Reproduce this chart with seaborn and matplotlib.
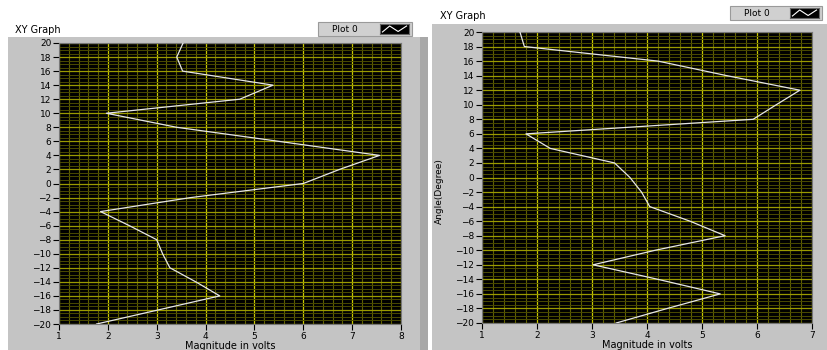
import numpy as np
import pandas as pd
import matplotlib
matplotlib.use("Agg")
import matplotlib.pyplot as plt
from matplotlib.patches import Rectangle
import seaborn as sns

# Angle sweep (degrees) shared by both graphs
angle = [20, 18, 16, 14, 12, 10, 8, 6, 4, 2, 0,
         -2, -4, -6, -8, -10, -12, -14, -16, -18, -20]

# Measured magnitudes (volts) for each angle
left_mag = [3.54, 3.41, 3.53, 5.38, 4.70, 1.97, 3.41, 5.50, 7.56, 6.74, 6.00,
            3.70, 1.85, 2.44, 3.00, 3.12, 3.27, 3.80, 4.29, 3.03, 1.77]
right_mag = [1.69, 1.77, 4.20, 5.45, 6.78, 6.35, 5.93, 1.80, 2.24, 3.41, 3.69,
             3.90, 4.05, 4.78, 5.42, 4.15, 3.02, 4.20, 5.33, 4.37, 3.44]

left_xticks = [1, 2, 3, 4, 5, 6, 7, 8]
right_xticks = [1, 2, 3, 4, 5, 6, 7]
yticks = list(range(-20, 21, 2))

W, H = 827, 350
PANEL = "#c4c4c4"
fig = plt.figure(figsize=(W / 100, H / 100), dpi=100)
fig.patch.set_facecolor("white")


def px_rect(x0, y0, x1, y1):
    """Figure-fraction rectangle from pixel corners (origin top-left)."""
    return [x0 / W, 1 - y1 / H, (x1 - x0) / W, (y1 - y0) / H]


def add_box(x0, y0, x1, y1, color, z=-10, ec="none", lw=0):
    l, b, w, h = px_rect(x0, y0, x1, y1)
    fig.patches.append(Rectangle((l, b), w, h, transform=fig.transFigure,
                                 facecolor=color, edgecolor=ec, linewidth=lw,
                                 zorder=z))


# Grey front-panel backgrounds
add_box(8, 37, 420, 350, PANEL)
add_box(420, 37, 428, 350, "#a8a8a8")
add_box(432, 24, 827, 350, PANEL)


def legend_box(x0, y0, x1, y1):
    add_box(x0, y0, x1, y1, "#d0d0d0", z=-5, ec="#9a9a9a", lw=0.8)
    fig.text((x0 + 14) / W, 1 - (y0 + y1) / 2 / H, "Plot 0", fontsize=6.5,
             va="center", ha="left", color="black")
    ix0, ix1 = x1 - 32, x1 - 3
    ax_i = fig.add_axes(px_rect(ix0, y0 + 2, ix1, y1 - 2))
    ax_i.set_zorder(5)
    ax_i.set_facecolor("black")
    ax_i.plot([0, 0.3, 0.65, 1], [0.2, 0.8, 0.25, 0.8], color="white", lw=0.8)
    ax_i.set_xlim(-0.1, 1.1)
    ax_i.set_ylim(0, 1)
    ax_i.set_xticks([])
    ax_i.set_yticks([])
    for s in ax_i.spines.values():
        s.set_color("#666666")
        s.set_linewidth(0.8)


def draw_graph(rect, mag, xticks, title_xy, show_ylabel):
    ax = fig.add_axes(rect)
    ax.set_facecolor("black")
    xmin, xmax = xticks[0], xticks[-1]
    # dense LabVIEW-style grid
    for v in np.arange(xmin, xmax + 1e-9, 0.2):
        major = abs(v - round(v)) < 1e-6
        ax.axvline(v, color="#c8c800" if major else "#5e5e00",
                   lw=0.9 if major else 0.8, zorder=1)
    for v in np.arange(-20, 20 + 1e-9, 0.5):
        major = abs(v / 2 - round(v / 2)) < 1e-6
        ax.axhline(v, color="#9a9a00" if major else "#4a4a00",
                   lw=0.9 if major else 0.7, zorder=1)
    df = pd.DataFrame({"Magnitude": mag, "Angle": angle})
    sns.lineplot(data=df, x="Magnitude", y="Angle", sort=False,
                 estimator=None, color="#e6e6e6", lw=0.9, ax=ax, zorder=3)
    ax.set_xlim(xmin, xmax)
    ax.set_ylim(-20, 20)
    ax.set_xticks(xticks)
    ax.set_yticks(yticks)
    ax.tick_params(direction="out", length=4, width=0.8, labelsize=6.5,
                   pad=1.5, colors="black")
    ax.set_xlabel("Magnitude in volts", fontsize=7, labelpad=0)
    if show_ylabel:
        ax.set_ylabel("Angle(Degree)", fontsize=6.5)
        ax.yaxis.set_label_coords(-0.115, 0.455)
    else:
        ax.set_ylabel("")
    for s in ax.spines.values():
        s.set_color("#777777")
        s.set_linewidth(0.8)
    fig.text(title_xy[0] / W, 1 - title_xy[1] / H, "XY Graph", fontsize=7,
             ha="left", va="center", color="black")
    return ax


draw_graph(px_rect(59, 43, 401, 324), left_mag, left_xticks, (15, 30), False)
draw_graph(px_rect(482, 32, 812, 323), right_mag, right_xticks, (440, 16), True)

legend_box(318, 22, 412, 36)
legend_box(730, 6, 822, 20)

fig.savefig("out.png", dpi=100, facecolor=fig.get_facecolor())
